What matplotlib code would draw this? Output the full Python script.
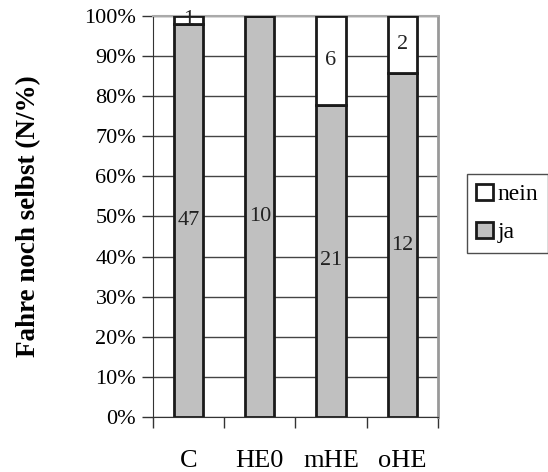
import matplotlib.pyplot as plt
import numpy as np

# Fahrt noch selbst: Anzahl je Gruppe
gruppen = ["C", "HE0", "mHE", "oHE"]
ja = [47, 10, 21, 12]
nein = [1, 0, 6, 2]
yticks = [0, 10, 20, 30, 40, 50, 60, 70, 80, 90, 100]

plt.rcParams['font.family'] = ['Liberation Serif', 'DejaVu Serif']

ja_arr = np.array(ja, dtype=float)
nein_arr = np.array(nein, dtype=float)
gesamt = ja_arr + nein_arr
ja_pct = ja_arr / gesamt * 100
nein_pct = nein_arr / gesamt * 100

fig = plt.figure(figsize=(5.48, 4.72), dpi=100)
ax = fig.add_axes([0.279, 0.1165, 0.52, 0.85])

x = np.arange(len(gruppen))
breite = 0.41
b_ja = ax.bar(x, ja_pct, breite, color="#c0c0c0", edgecolor="#1a1a1a",
              linewidth=2, label="ja", zorder=3)
b_nein = ax.bar(x, nein_pct, breite, bottom=ja_pct, color="white",
                edgecolor="#1a1a1a", linewidth=2, label="nein", zorder=3)

# Beschriftung mit den Anzahlen
for i in range(len(gruppen)):
    ax.text(x[i], ja_pct[i] / 2, str(ja[i]), ha="center", va="center",
            fontsize=16, color="#222222", zorder=4)
    if nein[i] > 0:
        ax.text(x[i], ja_pct[i] + nein_pct[i] / 2, str(nein[i]), ha="center",
                va="center", fontsize=16, color="#222222", zorder=4)

ax.set_xlim(-0.5, len(gruppen) - 0.5)
ax.set_ylim(0, 100)
ax.set_yticks(yticks)
ax.set_yticklabels([f"{t}%" for t in yticks], fontsize=16)
ax.set_xticks(x)
ax.set_xticklabels(gruppen, fontsize=19)
ax.set_xticks(np.arange(len(gruppen) + 1) - 0.5, minor=True)
ax.tick_params(axis="x", which="major", length=0, pad=24)
ax.tick_params(axis="x", which="minor", length=8, width=1, color="#333333")
ax.tick_params(axis="y", length=8, width=1, color="#333333", pad=4)

ax.yaxis.grid(True, color="#444444", linewidth=1, zorder=0)
ax.spines["left"].set_color("#333333")
ax.spines["bottom"].set_color("#333333")
ax.spines["top"].set_color("#aaaaaa")
ax.spines["right"].set_color("#999999")
ax.spines["right"].set_linewidth(2)
ax.spines["top"].set_linewidth(1.5)

ax.set_ylabel("Fahre noch selbst (N/%)", fontsize=19.5, fontweight="bold",
              labelpad=31)

leg = fig.legend([b_nein, b_ja], ["nein", "ja"], loc="upper left",
                 bbox_to_anchor=(0.852, 0.631), fontsize=17, frameon=True,
                 fancybox=False, edgecolor="#222222", handlelength=0.7,
                 handleheight=0.7, handletextpad=0.2, borderpad=0.4,
                 labelspacing=0.7, borderaxespad=0)
leg.get_frame().set_linewidth(1)

plt.savefig("out.png", dpi=100)
